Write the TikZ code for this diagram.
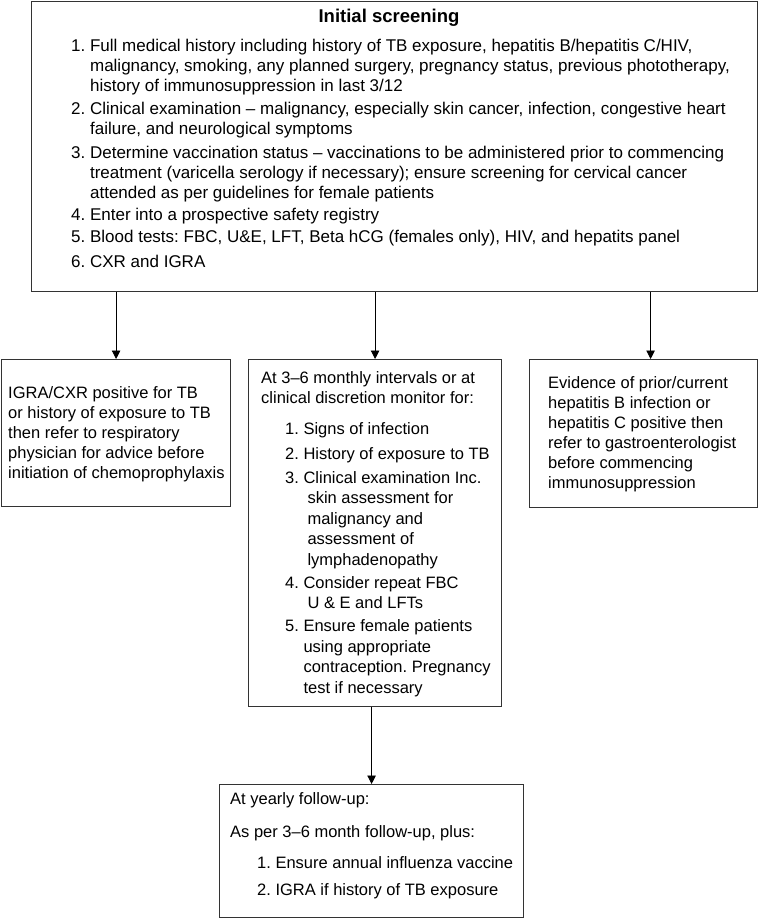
\documentclass[tikz,border=0pt]{standalone}
\usepackage{fontspec}
\setmainfont{Liberation Sans}
\usetikzlibrary{arrows.meta}
\frenchspacing

\begin{document}
\begin{tikzpicture}[x=1pt, y=-1pt,
  box/.style={draw=black!80, line width=1.2pt, inner sep=0pt, anchor=north west},
  txt/.style={anchor=base west, inner sep=0pt, font=\fontsize{16.5}{20.5}\selectfont},
  flow/.style={draw=black, line width=0.9pt, -{Triangle[length=8.5pt, width=8.5pt]}}]
  \useasboundingbox (0,0) rectangle (758,918);

  % Initial screening: 726 x 290
  \node[box, minimum width=726, minimum height=290] (screen) at (31,1) {};
  \node[anchor=base, inner sep=0pt, font=\fontsize{18.5}{22}\selectfont\bfseries] (title) at (389,22) {Initial screening};
  \node[txt, font=\fontsize{17}{20}\selectfont] (screenlist) at (71,51) {\begin{tabular}[t]{@{}l@{ }l@{}}
    1. & Full medical history including history of TB exposure, hepatitis B/hepatitis C/HIV,\\
       & malignancy, smoking, any planned surgery, pregnancy status, previous phototherapy,\\
       & history of immunosuppression in last 3/12\\[3.5pt]
    2. & Clinical examination – malignancy, especially skin cancer, infection, congestive heart\\
       & failure, and neurological symptoms\\[3.5pt]
    3. & Determine vaccination status – vaccinations to be administered prior to commencing\\
       & treatment (varicella serology if necessary); ensure screening for cervical cancer\\
       & attended as per guidelines for female patients\\[2pt]
    4. & Enter into a prospective safety registry\\[2pt]
    5. & Blood tests: FBC, U\&E, LFT, Beta hCG (females only), HIV, and hepatits panel\\[5pt]
    6. & CXR and IGRA
  \end{tabular}};

  % TB referral (left)
  \node[box, minimum width=229, minimum height=147] (tbbox) at (1,359) {};
  \node[txt, font=\fontsize{16.5}{20}\selectfont] (tbtxt) at (8,398) {\begin{tabular}[t]{@{}l@{}}
    IGRA/CXR positive for TB\\
    or history of exposure to TB\\
    then refer to respiratory\\
    physician for advice before\\
    initiation of chemoprophylaxis
  \end{tabular}};

  % 3-6 monthly monitoring (middle)
  \node[box, minimum width=253, minimum height=347] (monitor) at (248,359) {};
  \node[txt] (monhead) at (261,383) {\begin{tabular}[t]{@{}l@{}}
    At 3–6 monthly intervals or at\\
    clinical discretion monitor for:
  \end{tabular}};
  \node[txt] (monlist) at (285,434) {\begin{tabular}[t]{@{}l@{ }l@{}}
    1. & Signs of infection\\[4.5pt]
    2. & History of exposure to TB\\[3.5pt]
    3. & Clinical examination Inc.\\
       & \hspace{4pt}skin assessment for\\
       & \hspace{4pt}malignancy and\\
       & \hspace{4pt}assessment of\\
       & \hspace{4pt}lymphadenopathy\\[2.5pt]
    4. & Consider repeat FBC\\
       & \hspace{4pt}U \& E and LFTs\\[2.5pt]
    5. & Ensure female patients\\
       & using appropriate\\
       & contraception. Pregnancy\\
       & test if necessary
  \end{tabular}};

  % Hepatitis referral (right)
  \node[box, minimum width=228, minimum height=148] (hepbox) at (529,359) {};
  \node[txt, font=\fontsize{16.5}{20}\selectfont] (heptxt) at (548,388) {\begin{tabular}[t]{@{}l@{}}
    Evidence of prior/current\\
    hepatitis B infection or\\
    hepatitis C positive then\\
    refer to gastroenterologist\\
    before commencing\\
    immunosuppression
  \end{tabular}};

  % Yearly follow-up
  \node[box, minimum width=304, minimum height=133] (yearly) at (219,784) {};
  \node[txt] (yrhead) at (230,804) {At yearly follow-up:};
  \node[txt] (yrplus) at (230,837) {As per 3–6 month follow-up, plus:};
  \node[txt] (yrlist) at (257,868) {\begin{tabular}[t]{@{}l@{ }l@{}}
    1. & Ensure annual influenza vaccine\\[6.5pt]
    2. & IGRA if history of TB exposure
  \end{tabular}};

  % Arrows
  \coordinate (hepin) at ([xshift=7]hepbox.north);
  \draw[flow] (tbbox.north |- screen.south) -- (tbbox.north);
  \draw[flow] (monitor.north |- screen.south) -- (monitor.north);
  \draw[flow] (hepin |- screen.south) -- (hepin);
  \draw[flow] (monitor.south -| yearly.north) -- (yearly.north);
\end{tikzpicture}
\end{document}
